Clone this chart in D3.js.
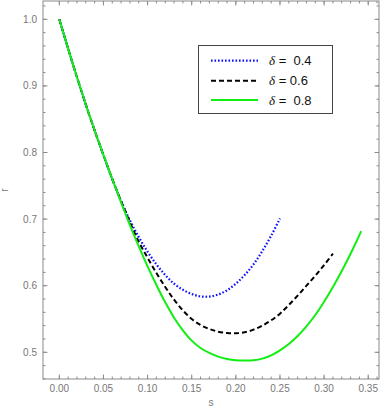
<!DOCTYPE html>
<html><head><meta charset="utf-8">
<script src="https://cdn.jsdelivr.net/npm/d3@7"></script>
<style>body{margin:0;background:#fff}svg{display:block}</style>
</head><body>
<script>
const sBlue  = [0,0.01,0.02,0.03,0.04,0.05,0.06,0.07,0.08,0.09,0.10,0.11,0.12,0.13,0.14,0.15,0.16,0.17,0.18,0.19,0.20,0.21,0.22,0.23,0.24,0.25];
const rBlue  = [1.0,0.956,0.913,0.872,0.833,0.796,0.760,0.727,0.698,0.673,0.651,0.632,0.616,0.603,0.594,0.5875,0.584,0.5837,0.5867,0.593,0.603,0.616,0.632,0.652,0.675,0.701];
const sBlack = [0,0.01,0.02,0.03,0.04,0.05,0.06,0.07,0.08,0.09,0.10,0.11,0.12,0.13,0.14,0.15,0.16,0.17,0.18,0.19,0.20,0.21,0.22,0.23,0.24,0.25,0.26,0.27,0.28,0.29,0.30,0.31];
const rBlack = [1.0,0.956,0.913,0.872,0.833,0.796,0.760,0.727,0.695,0.666,0.642,0.619,0.598,0.579,0.563,0.550,0.541,0.535,0.531,0.529,0.5285,0.530,0.534,0.540,0.548,0.558,0.571,0.585,0.600,0.615,0.631,0.648];
const sGreen = [0,0.01,0.02,0.03,0.04,0.05,0.06,0.07,0.08,0.09,0.10,0.11,0.12,0.13,0.14,0.15,0.16,0.17,0.18,0.19,0.20,0.21,0.22,0.23,0.24,0.25,0.26,0.27,0.28,0.29,0.30,0.31,0.32,0.33,0.34,0.342];
const rGreen = [1.0,0.956,0.913,0.872,0.833,0.796,0.760,0.725,0.691,0.659,0.629,0.601,0.575,0.552,0.533,0.5175,0.5065,0.499,0.4935,0.490,0.488,0.4875,0.488,0.4905,0.4955,0.503,0.5125,0.5245,0.539,0.556,0.576,0.598,0.622,0.648,0.676,0.682];
const xTicks = [0,0.05,0.10,0.15,0.20,0.25,0.30,0.35];
const yTicks = [0.5,0.6,0.7,0.8,0.9,1.0];
const legendLabels = ["\u03b4 =  0.4","\u03b4 = 0.6","\u03b4 =  0.8"];

const W=382,H=409;
const L=43,R=379,T=1,B=379;
const svg=d3.select("body").append("svg").attr("width",W).attr("height",H);
const x=d3.scaleLinear().domain([-0.0185,0.3622]).range([L,R]);
const y=d3.scaleLinear().domain([0.4599,1.0275]).range([B,T]);
const frameCol="#8a8a8a", labCol="#777";

const xMinor=d3.range(0,0.3601,0.01), yMinor=d3.range(0.46,1.021,0.02);
const g=svg.append("g").attr("stroke",frameCol).attr("stroke-width",1);
function tickSet(vals,len,isX){
  vals.forEach(v=>{
    if(isX){const px=x(v);
      g.append("line").attr("x1",px).attr("x2",px).attr("y1",B).attr("y2",B-len);
      g.append("line").attr("x1",px).attr("x2",px).attr("y1",T).attr("y2",T+len);
    } else {const py=y(v);
      g.append("line").attr("y1",py).attr("y2",py).attr("x1",L).attr("x2",L+len);
      g.append("line").attr("y1",py).attr("y2",py).attr("x1",R).attr("x2",R-len);
    }
  });
}
tickSet(xMinor,2.5,true); tickSet(xTicks,4.5,true);
tickSet(yMinor,2.5,false); tickSet(yTicks,4.5,false);
svg.append("rect").attr("x",L).attr("y",T).attr("width",R-L).attr("height",B-T)
  .attr("fill","none").attr("stroke",frameCol).attr("stroke-width",1);

const fmtX=d3.format(".2f"), fmtY=d3.format(".1f");
svg.append("g").selectAll("text").data(xTicks).join("text")
  .attr("x",d=>x(d)).attr("y",392).attr("text-anchor","middle")
  .attr("font-family","Liberation Sans, Arial, sans-serif").attr("font-size",10).attr("fill",labCol)
  .text(d=>fmtX(d));
svg.append("g").selectAll("text").data(yTicks).join("text")
  .attr("x",37).attr("y",d=>y(d)+3.5).attr("text-anchor","end")
  .attr("font-family","Liberation Sans, Arial, sans-serif").attr("font-size",10).attr("fill",labCol)
  .text(d=>fmtY(d));
svg.append("text").attr("x",211).attr("y",406).attr("text-anchor","middle")
  .attr("font-family","Liberation Sans, Arial, sans-serif").attr("font-size",10).attr("fill",labCol).text("s");
svg.append("text").attr("transform","translate(8,190) rotate(-90)").attr("text-anchor","middle")
  .attr("font-family","Liberation Sans, Arial, sans-serif").attr("font-size",10).attr("fill",labCol).text("r");

const line=d3.line().x(d=>x(d[0])).y(d=>y(d[1])).curve(d3.curveCatmullRom.alpha(0.5));
const series=[
  {s:sBlue,r:rBlue,col:"#1010ff",dash:"1.6,1.9",w:2.2},
  {s:sBlack,r:rBlack,col:"#000",dash:"5,3",w:2},
  {s:sGreen,r:rGreen,col:"#11ee11",dash:null,w:2}
];
series.forEach(se=>{
  svg.append("path").datum(se.s.map((v,i)=>[v,se.r[i]]))
    .attr("d",line).attr("fill","none").attr("stroke",se.col).attr("stroke-width",se.w)
    .attr("stroke-dasharray",se.dash);
});

svg.append("rect").attr("x",198.5).attr("y",45.5).attr("width",134).attr("height",68)
  .attr("fill","#fff").attr("stroke","#444").attr("stroke-width",1);
const ly=[60.7,80.7,100];
series.forEach((se,i)=>{
  svg.append("line").attr("x1",211).attr("x2",258).attr("y1",ly[i]).attr("y2",ly[i])
    .attr("stroke",se.col).attr("stroke-width",se.w).attr("stroke-dasharray",se.dash);
  const t=svg.append("text").attr("x",269).attr("y",ly[i]+4.5)
    .attr("font-family","Liberation Sans, Arial, sans-serif").attr("font-size",13).attr("fill","#111")
    .style("white-space","pre");
  const parts=legendLabels[i].split("\u03b4");
  t.append("tspan").attr("font-style","italic").attr("font-family","Liberation Serif, Times, serif").text("\u03b4");
  t.append("tspan").text(parts[1]);
});
</script>
</body></html>
